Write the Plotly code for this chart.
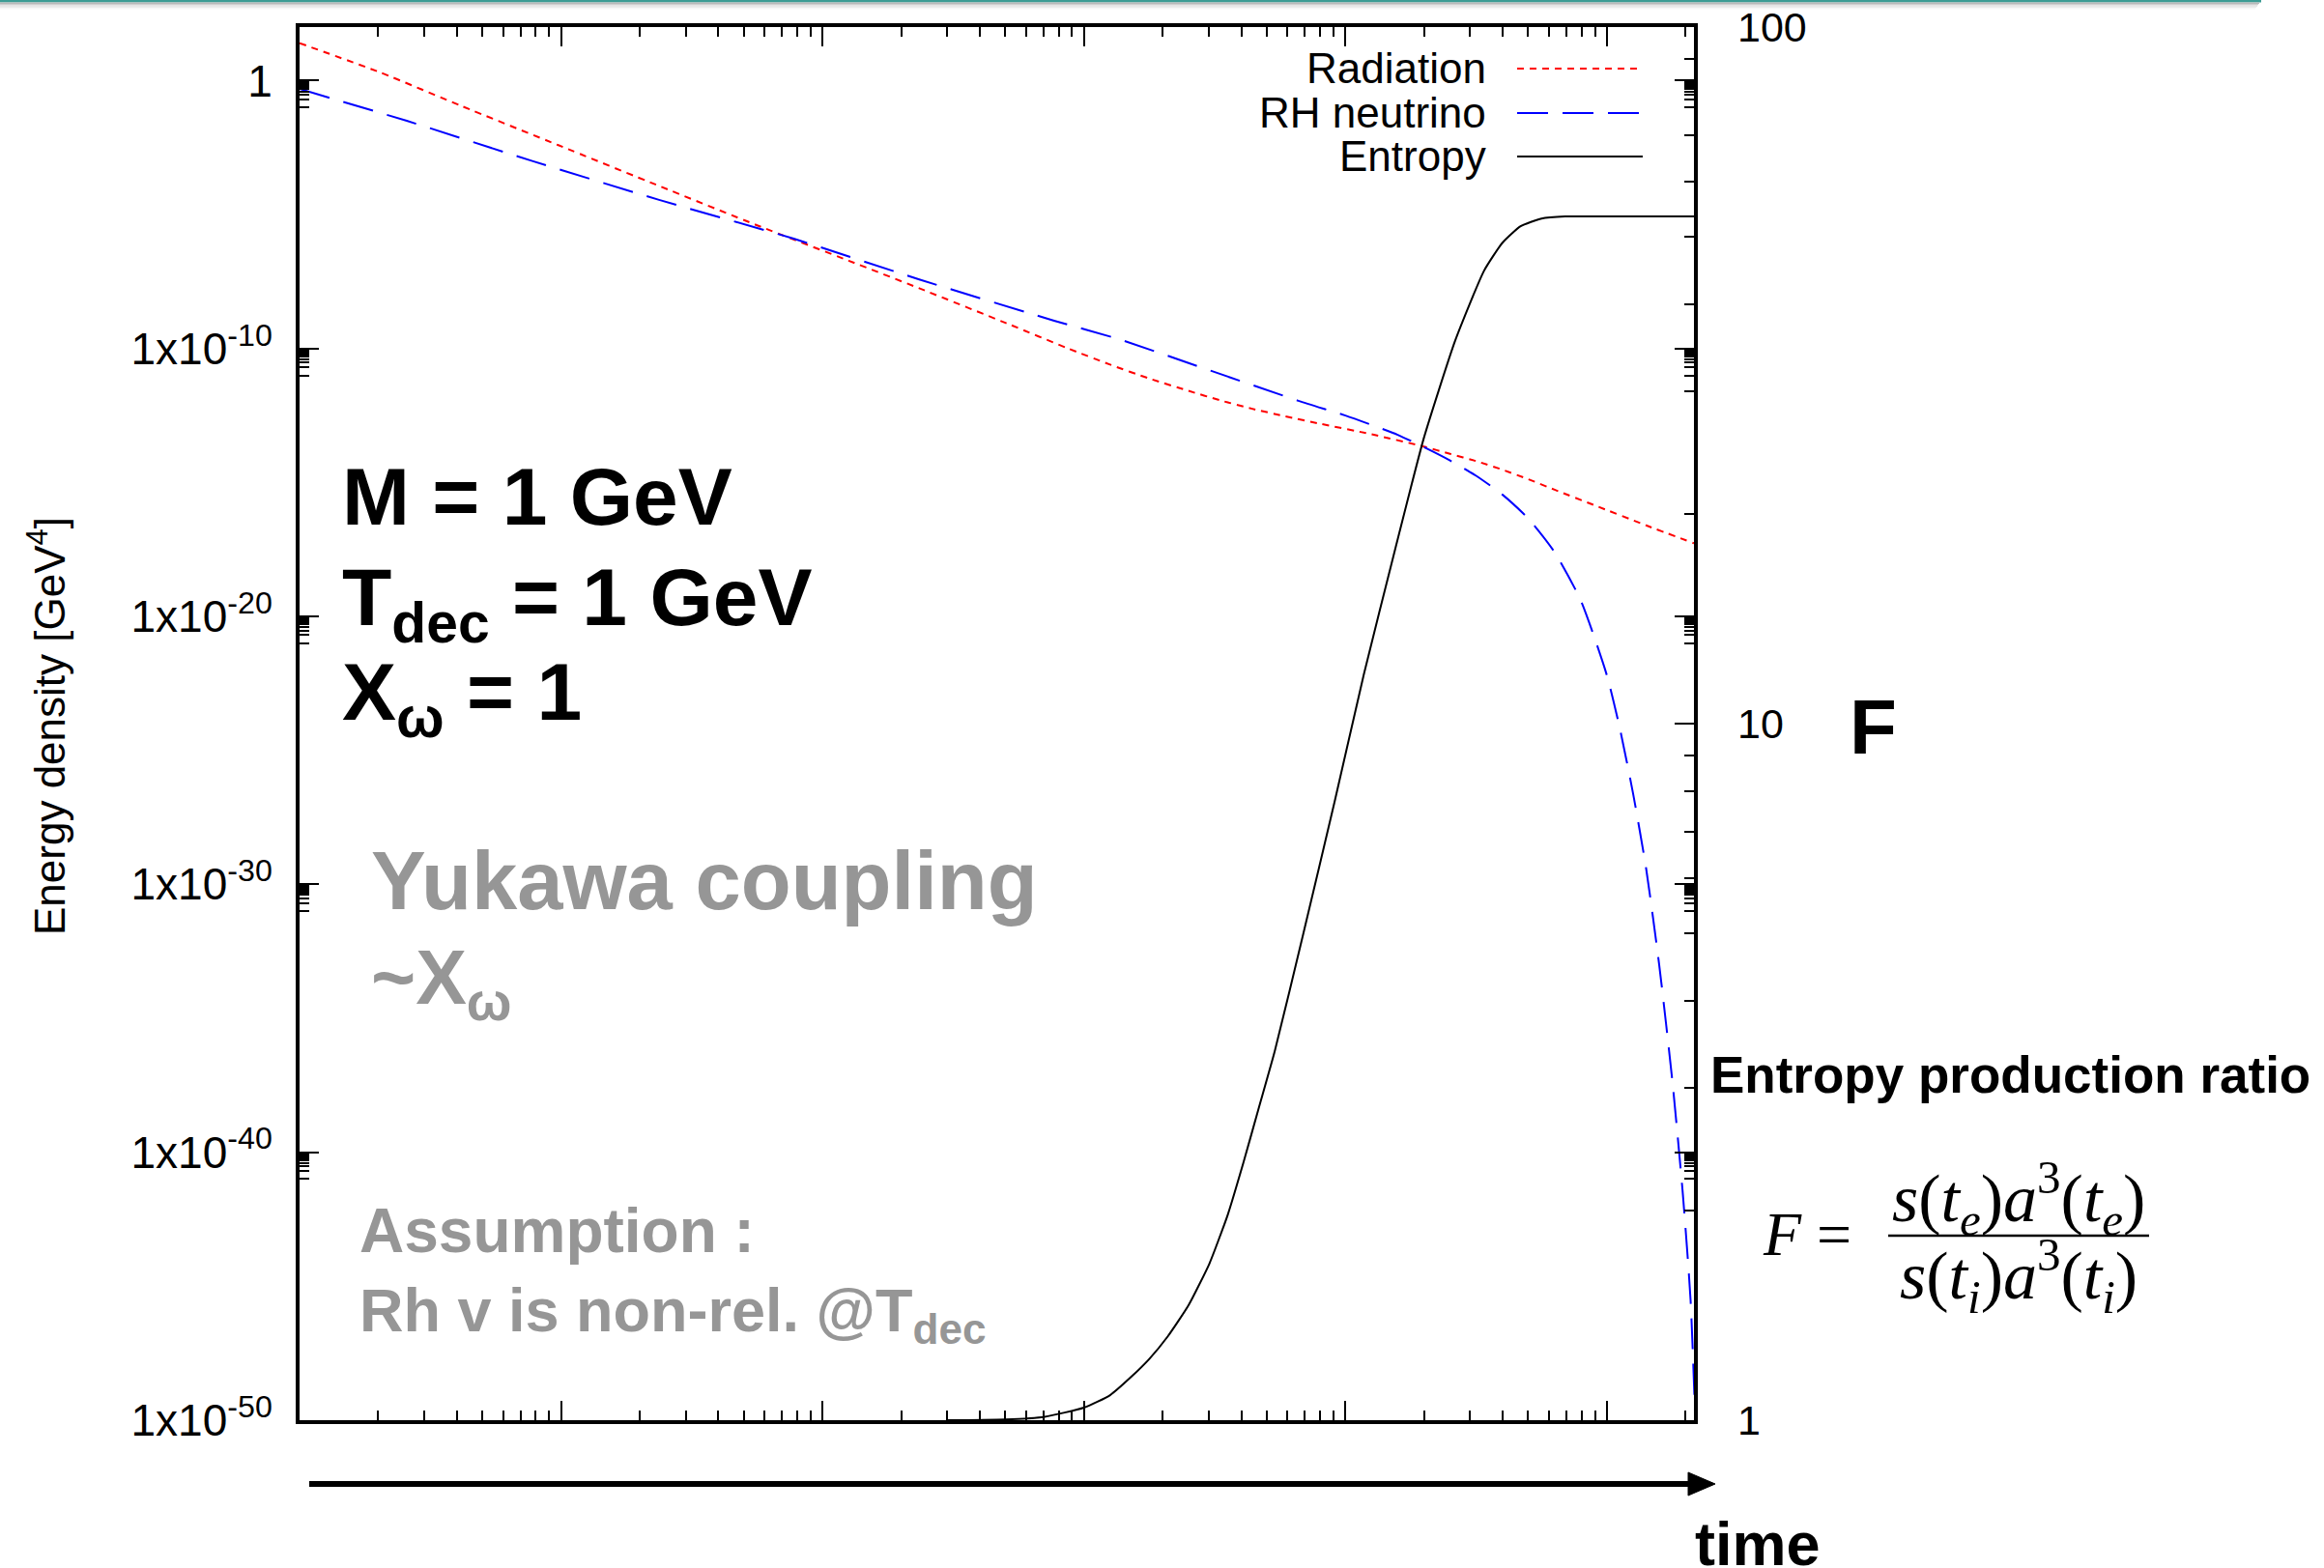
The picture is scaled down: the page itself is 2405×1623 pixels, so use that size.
import numpy as np
import plotly.graph_objects as go

# ---------------- data (log10 values) ----------------
# time axis is arbitrary units (no labels); values given as log10(t)
rad_logt = [0.0, 0.31, 0.62, 0.99, 1.38, 1.75, 2.10, 2.37, 2.72, 2.94, 3.10, 3.25, 3.40,
            3.52, 3.64, 3.77, 3.90, 4.10, 4.30, 4.40, 4.50, 4.60, 4.70, 4.80, 4.95, 5.15,
            5.333]
rad_logrho = [1.40, 0.30, -0.95, -2.41, -3.95, -5.40, -6.72, -7.75, -9.12, -10.0, -10.6,
              -11.12, -11.58, -11.93, -12.24, -12.53, -12.8, -13.2, -13.66, -13.93, -14.2,
              -14.52, -14.88, -15.27, -15.84, -16.6, -17.27]

rhn_logt = [0.0, 0.41, 0.89, 1.375, 1.89, 2.37, 2.886, 3.13, 3.40, 3.82, 4.00, 4.10, 4.20,
            4.30, 4.40, 4.50, 4.60, 4.70, 4.80, 4.90, 5.00, 5.05, 5.10, 5.15, 5.20, 5.25,
            5.29, 5.32, 5.338]
rhn_logrho = [-0.31, -1.5, -3.0, -4.45, -5.9, -7.42, -8.96, -9.64, -10.54, -11.95, -12.5,
              -12.85, -13.22, -13.68, -14.18, -14.75, -15.45, -16.35, -17.6, -19.4, -22.2,
              -24.2, -26.6, -29.4, -33.0, -37.3, -41.5, -45.5, -50.0]

ent_logt = [2.48, 2.70, 2.85, 3.00, 3.10, 3.18, 3.25, 3.32, 3.40, 3.48, 3.55, 3.61, 3.67,
            3.73, 3.84, 3.96, 4.07, 4.19, 4.30, 4.42, 4.53, 4.60, 4.67, 4.75, 4.84, 5.0, 5.333]
ent_logF = [0.0, 0.001, 0.005, 0.018, 0.036, 0.062, 0.088, 0.12, 0.165, 0.225, 0.295,
            0.37, 0.45, 0.53, 0.70, 0.89, 1.07, 1.25, 1.41, 1.55, 1.65, 1.69, 1.714, 1.725,
            1.728, 1.728, 1.728]

series_names = ["Radiation", "RH neutrino", "Entropy"]

y_major_exp = [0, -10, -20, -30, -40, -50]
y_tick_text = ["1", "1x10<sup>-10</sup>", "1x10<sup>-20</sup>", "1x10<sup>-30</sup>",
               "1x10<sup>-40</sup>", "1x10<sup>-50</sup>"]
y2_tick_vals = [1, 10, 100]
y2_tick_text = ["1", "10", "100"]
x_major_exp = [0, 1, 2, 3, 4, 5]

# ---------------- helpers ----------------
W, H = 2405, 1623
L, R, T, B = 310, 1753, 28, 1470


def px(x):
    return (x - L) / (R - L)


def py(y):
    return (B - y) / (B - T)


SANS = "Liberation Sans"
SERIF = "Liberation Serif"

t_rad = [10 ** v for v in rad_logt]
rho_rad = [10 ** v for v in rad_logrho]
t_rhn = [10 ** v for v in rhn_logt]
rho_rhn = [10 ** v for v in rhn_logrho]
t_ent = [10 ** v for v in ent_logt]
F_ent = [10 ** v for v in ent_logF]

y_major = [10.0 ** e for e in y_major_exp]
y_minor = [n * 10.0 ** (e - 1) for e in y_major_exp for n in range(1, 10)]
y_minor = [v for v in y_minor if 1e-50 <= v <= 1e2]
y2_minor = [n * 10.0 ** k for k in (0, 1) for n in range(2, 10)]
x_major = [10.0 ** e for e in x_major_exp]
x_minor = [n * 10.0 ** k for k in range(0, 6) for n in range(2, 10)]
x_minor = [v for v in x_minor if v <= 10 ** 5.333]

RED = "#ff0000"
BLUE = "#0000ff"
RED_DASH = "7px,6px"
BLUE_DASH = "32px,15px"

fig = go.Figure()
fig.add_trace(go.Scatter(x=t_rad, y=rho_rad, mode="lines", name=series_names[0],
                         line=dict(color=RED, width=2, dash=RED_DASH, shape="spline", smoothing=0.6),
                         showlegend=False))
fig.add_trace(go.Scatter(x=t_rhn, y=rho_rhn, mode="lines", name=series_names[1],
                         line=dict(color=BLUE, width=2, dash=BLUE_DASH, shape="spline", smoothing=0.6),
                         showlegend=False))
fig.add_trace(go.Scatter(x=t_ent, y=F_ent, mode="lines", name=series_names[2], yaxis="y2",
                         line=dict(color="black", width=2, shape="spline", smoothing=0.5),
                         showlegend=False))

fig.update_layout(
    width=W, height=H,
    margin=dict(l=L, r=W - R, t=T, b=H - B, pad=0, autoexpand=False),
    paper_bgcolor="white", plot_bgcolor="white",
    font=dict(family=SANS, color="black"),
    xaxis=dict(type="log", range=[0, 5.333], showgrid=False, zeroline=False, automargin=False,
               showline=True, linecolor="black", linewidth=4, mirror="ticks",
               ticks="inside", tickmode="array", tickvals=x_major, ticklen=20,
               tickwidth=2, tickcolor="black", showticklabels=False,
               minor=dict(tickmode="array", tickvals=x_minor, ticks="inside",
                          ticklen=10, tickwidth=1.5, tickcolor="black", showgrid=False)),
    yaxis=dict(type="log", range=[-50, 2], showgrid=False, zeroline=False, automargin=False,
               showline=True, linecolor="black", linewidth=4, mirror="ticks",
               ticks="inside", tickmode="array", tickvals=y_major, ticktext=y_tick_text,
               ticklen=20, tickwidth=2, tickcolor="black",
               tickfont=dict(family=SANS, size=46, color="black"),
               ticklabelstandoff=15,
               minor=dict(tickmode="array", tickvals=y_minor, ticks="inside",
                          ticklen=10, tickwidth=1.5, tickcolor="black", showgrid=False)),
    yaxis2=dict(type="log", range=[0, 2], overlaying="y", side="right", anchor="x",
                showgrid=False, zeroline=False, showline=False, automargin=False,
                ticks="inside", tickmode="array", tickvals=y2_tick_vals, ticktext=y2_tick_text,
                ticklen=20, tickwidth=2, tickcolor="black",
                tickfont=dict(family=SANS, size=43, color="black"),
                ticklabelstandoff=44,
                minor=dict(tickmode="array", tickvals=y2_minor, ticks="inside",
                           ticklen=10, tickwidth=1.5, tickcolor="black", showgrid=False)),
)

annotations = []


def ann(text, x, y, size, color="black", xanchor="left", yanchor="middle",
        family=SANS, angle=0):
    annotations.append(dict(text=text, x=px(x), y=py(y), xref="paper", yref="paper",
                            xanchor=xanchor, yanchor=yanchor, showarrow=False,
                            textangle=angle,
                            font=dict(family=family, size=size, color=color)))


GRAY = "#969696"

# axis title
ann("Energy density [GeV<sup>4</sup>]", 48, 752, 44, xanchor="center", angle=-90)

# legend texts
leg_y = [71, 117, 162]
for name, yy in zip(series_names, leg_y):
    ann(name, 1540, yy, 44, xanchor="right")

# parameter texts
ann("<b>M = 1 GeV</b>", 352, 514, 84)
ann("<b>T<sub>dec</sub> = 1 GeV</b>", 352, 624, 84)
ann("<b>X<sub>ω</sub> = 1</b>", 352, 722, 84)
ann("<b>Yukawa coupling</b>", 382, 912, 85, color=GRAY)
ann("<b>~X<sub>ω</sub></b>", 382, 1018, 79, color=GRAY)
ann("<b>Assumption :</b>", 370, 1274, 64, color=GRAY)
ann("<b>Rh v is non-rel. @T<sub>dec</sub></b>", 370, 1360, 63, color=GRAY)

# right side texts
ann("<b>F</b>", 1912, 752, 80)
ann("<b>Entropy production ratio</b>", 1768, 1112, 53)
ann("<i>F</i> =", 1822, 1277, 64, family=SERIF)
ann("<i>s</i>(<i>t<sub>e</sub></i>)<i>a</i><sup>3</sup>(<i>t<sub>e</sub></i>)", 2089, 1240, 70,
    xanchor="center", family=SERIF)
ann("<i>s</i>(<i>t<sub>i</sub></i>)<i>a</i><sup>3</sup>(<i>t<sub>i</sub></i>)", 2089, 1320, 70,
    xanchor="center", family=SERIF)

# time label
ann("<b>time</b>", 1752, 1598, 63)

fig.update_layout(annotations=annotations)

shapes = []
# legend samples
leg_styles = [(RED, RED_DASH), (BLUE, BLUE_DASH), ("black", "solid")]
for (col, dsh), yy in zip(leg_styles, leg_y):
    shapes.append(dict(type="line", xref="paper", yref="paper", x0=px(1570), x1=px(1700),
                       y0=py(yy), y1=py(yy), line=dict(color=col, width=2, dash=dsh)))

# fraction bar
shapes.append(dict(type="line", xref="paper", yref="paper", x0=px(1954), x1=px(2224),
                   y0=py(1279), y1=py(1279), line=dict(color="black", width=2.5)))

# time arrow
shapes.append(dict(type="line", xref="paper", yref="paper", x0=px(320), x1=px(1752),
                   y0=py(1536), y1=py(1536), line=dict(color="black", width=6)))
shapes.append(dict(type="path", xref="paper", yref="paper",
                   path=f"M {px(1747)},{py(1524)} L {px(1775)},{py(1536)} L {px(1747)},{py(1548)} Z",
                   fillcolor="black", line=dict(color="black", width=1)))

# slide-style top bar
shapes.append(dict(type="rect", xref="paper", yref="paper", x0=px(0), x1=px(2340),
                   y0=py(2.5), y1=py(0), fillcolor="#3c9c94", line=dict(width=0)))
for i, c in enumerate(["#b8b8b8", "#cdcdcd", "#dedede", "#ececec", "#f6f6f6"]):
    shapes.append(dict(type="rect", xref="paper", yref="paper", x0=px(0), x1=px(2338 - i),
                       y0=py(2.5 + (i + 1) * 1.4), y1=py(2.5 + i * 1.4),
                       fillcolor=c, line=dict(width=0)))

fig.update_layout(shapes=shapes)

fig.write_html("out.html")
